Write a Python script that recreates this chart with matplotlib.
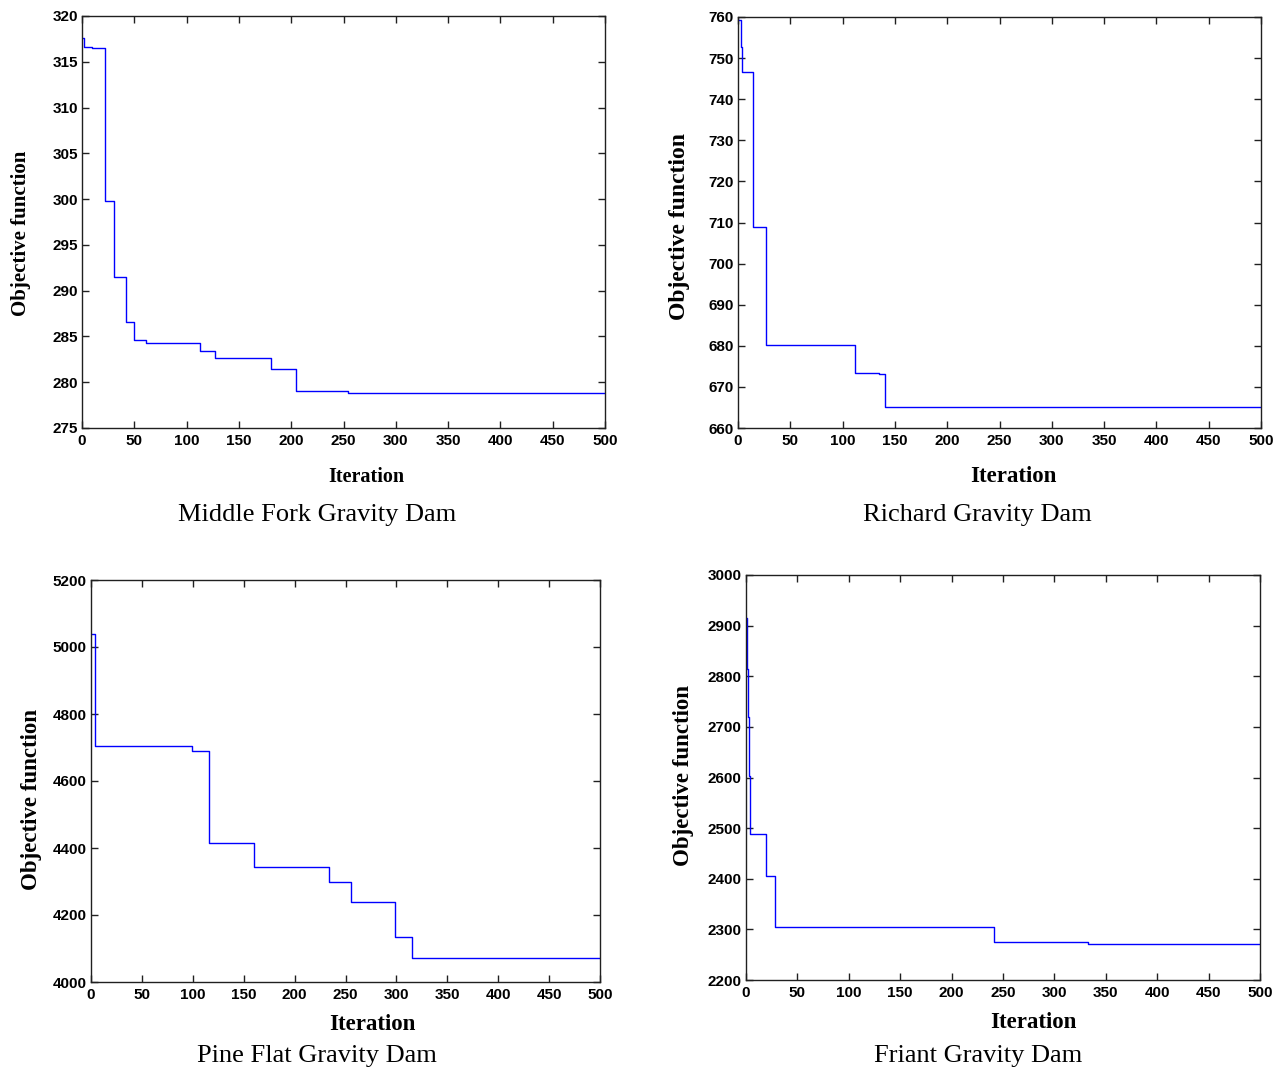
import numpy as np
import matplotlib
matplotlib.use("Agg")
import matplotlib.pyplot as plt

W, H = 1284, 1068

# ---- data (change points of best objective value per iteration) ----
mf_iter = [0, 2, 10, 22, 31, 42, 50, 61, 113, 127, 181, 205, 254, 500]
mf_val = [317.6, 316.6, 316.5, 299.8, 291.5, 286.6, 284.6, 284.3, 283.4, 282.6, 281.4, 279.05, 278.8, 278.8]

rc_iter = [0, 3, 4, 14, 27, 112, 135, 141, 500]
rc_val = [759.3, 752.8, 746.6, 709.0, 680.2, 673.5, 673.1, 665.0, 665.0]

pf_iter = [0, 4, 99, 116, 160, 234, 255, 299, 315, 500]
pf_val = [5038, 4704, 4690, 4416, 4342, 4300, 4240, 4135, 4073, 4073]

fr_iter = [0, 1, 2, 3, 4, 19, 28, 241, 333, 500]
fr_val = [2915, 2815, 2720, 2602, 2489, 2406, 2305, 2276, 2271, 2271]

x_ticks = list(range(0, 501, 50))
mf_yticks = list(range(275, 321, 5))
rc_yticks = list(range(660, 761, 10))
pf_yticks = list(range(4000, 5201, 200))
fr_yticks = list(range(2200, 3001, 100))

titles = ["Middle Fork Gravity Dam", "Richard Gravity Dam",
          "Pine Flat Gravity Dam", "Friant Gravity Dam"]

fig = plt.figure(figsize=(W / 100, H / 100), dpi=100)


def px_axes(l, r, t, b):
    return fig.add_axes([l / W, 1 - b / H, (r - l) / W, (b - t) / H])


def setup(ax, xs, ys, yticks, ylim, yfs, xfs):
    ax.step(xs, ys, where="post", color="#0000ff", lw=1.0)
    ax.set_xlim(0, 500)
    ax.set_ylim(*ylim)
    ax.set_xticks(x_ticks)
    ax.set_yticks(yticks)
    ax.tick_params(direction="in", length=5, width=1, top=True, right=True,
                   colors="#202020")
    ax.tick_params(axis="y", pad=3, labelsize=yfs, labelcolor="black")
    ax.tick_params(axis="x", pad=4, labelsize=xfs, labelcolor="black")
    for lab in ax.get_xticklabels() + ax.get_yticklabels():
        lab.set_fontfamily("Liberation Sans")
        lab.set_fontweight("bold")
    for s in ax.spines.values():
        s.set_linewidth(1.0)
        s.set_color("#202020")


def ftext(x, y, s, **kw):
    fig.text(x / W, 1 - y / H, s, ha="center", va="center", **kw)


ax1 = px_axes(82, 605, 16, 428)
setup(ax1, mf_iter, mf_val, mf_yticks, (275, 320), 11, 11)
ax2 = px_axes(738, 1261, 17, 428)
setup(ax2, rc_iter, rc_val, rc_yticks, (660, 760), 11, 11)
ax3 = px_axes(91, 600, 580, 982)
setup(ax3, pf_iter, pf_val, pf_yticks, (4000, 5200), 11, 11)
ax4 = px_axes(746, 1260, 575, 980)
setup(ax4, fr_iter, fr_val, fr_yticks, (2200, 3000), 11, 11)

lab = dict(family="Liberation Serif", weight="bold")
ftext(366, 477, "Iteration", fontsize=14.5, **lab)
ftext(1013, 476, "Iteration", fontsize=16.5, **lab)
ftext(372, 1024, "Iteration", fontsize=16.5, **lab)
ftext(1033, 1022, "Iteration", fontsize=16.5, **lab)

ftext(21, 233, "Objective function", fontsize=15, rotation=90, **lab)
ftext(680, 226, "Objective function", fontsize=17, rotation=90, **lab)
ftext(32, 799, "Objective function", fontsize=16.5, rotation=90, **lab)
ftext(684, 775, "Objective function", fontsize=16.5, rotation=90, **lab)

cap = dict(family="Liberation Serif", fontsize=19)
ftext(317, 515, titles[0], **cap)
ftext(977, 515, titles[1], **cap)
ftext(317, 1056, titles[2], **cap)
ftext(978, 1056, titles[3], **cap)

fig.savefig("out.png", dpi=100)
